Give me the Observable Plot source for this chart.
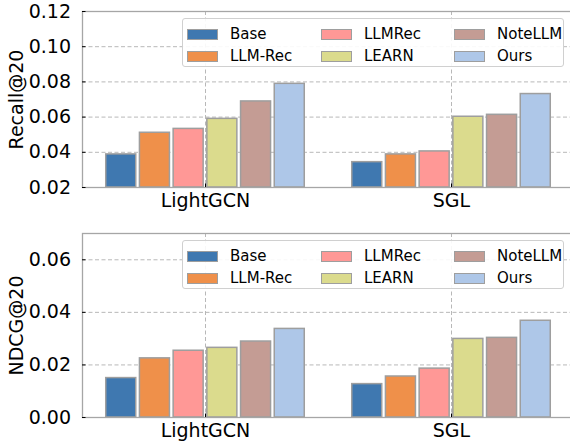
<!DOCTYPE html>
<html>
<head>
<meta charset="utf-8">
<script src="https://cdn.jsdelivr.net/npm/d3@7"></script>
<script src="https://cdn.jsdelivr.net/npm/@observablehq/plot@0.6"></script>
<style>
  html, body { margin: 0; padding: 0; background: white; }
  #wrap { position: relative; width: 570px; height: 442px; overflow: hidden; font-family: "DejaVu Sans", sans-serif; }
  .panel { position: absolute; left: 0; }
  .legend { position: absolute; left: 182px; width: 382px; height: 49px; border: 1px solid #d0d0d0; border-radius: 3px; background: rgba(255,255,255,0.9); box-sizing: border-box; }
  .item { position: absolute; display: flex; align-items: center; font-size: 15px; color: #000; white-space: nowrap; }
  .patch { width: 31px; height: 11px; box-sizing: border-box; border: 1.5px solid #9e9e9e; margin-right: 12px; }
</style>
</head>
<body>
<div id="wrap"></div>
<script>
const groups = ["LightGCN", "SGL"];
const methods = ["Base", "LLM-Rec", "LLMRec", "LEARN", "NoteLLM", "Ours"];
const colors = ["#3f78b0", "#ef904a", "#ff9896", "#dbdb8d", "#c49c94", "#aec7e8"];

const recallLightGCN = [0.0388, 0.0511, 0.0533, 0.0590, 0.0689, 0.0789];
const recallSGL      = [0.0344, 0.0388, 0.0405, 0.0602, 0.0613, 0.0731];
const ndcgLightGCN   = [0.0150, 0.0225, 0.0254, 0.0265, 0.0289, 0.0337];
const ndcgSGL        = [0.0127, 0.0156, 0.0186, 0.0299, 0.0303, 0.0368];

const recallTicks = [0.02, 0.04, 0.06, 0.08, 0.10, 0.12];
const ndcgTicks = [0.00, 0.02, 0.04, 0.06];

const pitch = 0.137, barW = 0.122;

function rows(a, b) {
  const out = [];
  [a, b].forEach((vals, gi) => vals.forEach((v, mi) => out.push({gi, group: groups[gi], mi, method: methods[mi], value: v})));
  return out;
}

function panel({data, yDomain, ticks, label, height, marginTop, marginBottom}) {
  return Plot.plot({
    width: 570, height, marginLeft: 82, marginRight: -4, marginTop, marginBottom,
    style: {fontFamily: "DejaVu Sans", fontSize: "19px", color: "#000", background: "white", overflow: "visible"},
    x: {type: "linear", domain: [-0.5, 1.5]},
    y: {domain: yDomain},
    color: {domain: methods, range: colors},
    marks: [
      Plot.gridY(ticks, {stroke: "#b0b0b0", strokeOpacity: 1, strokeWidth: 0.9, strokeDasharray: "4,2.5"}),
      Plot.gridX([0, 1], {stroke: "#b0b0b0", strokeOpacity: 1, strokeWidth: 0.9, strokeDasharray: "4,2.5"}),
      Plot.rectY(data, {
        x1: d => d.gi + (d.mi - 2.5) * pitch - barW / 2,
        x2: d => d.gi + (d.mi - 2.5) * pitch + barW / 2,
        y1: yDomain[0], y2: "value", fill: "method", stroke: "#9e9e9e", strokeWidth: 1.5
      }),
      Plot.frame({stroke: "#a6a6a6", strokeWidth: 1.3}),
      Plot.axisY(ticks, {tickSize: -3.5, tickPadding: 15, tickFormat: d3.format(".2f"),
        label, labelAnchor: "center", labelArrow: "none", labelOffset: 73, fontSize: 19}),
      Plot.axisX([0, 1], {tickSize: -3.5, tickPadding: 9, tickFormat: i => groups[i], label: null, fontSize: 19})
    ]
  });
}

const wrap = document.getElementById("wrap");
function addPanel(svg, top) {
  const d = document.createElement("div");
  d.className = "panel"; d.style.top = top + "px";
  d.appendChild(svg); wrap.appendChild(d);
}
function addLegend(top) {
  const lg = document.createElement("div");
  lg.className = "legend"; lg.style.top = top + "px";
  const colLeft = [4, 138, 271], rowTop = [6, 28];
  methods.forEach((m, i) => {
    const it = document.createElement("div");
    it.className = "item";
    it.style.left = colLeft[Math.floor(i / 2)] + "px";
    it.style.top = rowTop[i % 2] + "px";
    const p = document.createElement("span"); p.className = "patch"; p.style.background = colors[i];
    const t = document.createElement("span"); t.textContent = m;
    it.appendChild(p); it.appendChild(t); lg.appendChild(it);
  });
  wrap.appendChild(lg);
}

addPanel(panel({data: rows(recallLightGCN, recallSGL), yDomain: [0.02, 0.12], ticks: recallTicks,
  label: "Recall@20", height: 215, marginTop: 11, marginBottom: 28}), 0);
addPanel(panel({data: rows(ndcgLightGCN, ndcgSGL), yDomain: [0, 0.07], ticks: ndcgTicks,
  label: "NDCG@20", height: 227, marginTop: 18, marginBottom: 25}), 215);
addLegend(18);
addLegend(240);
</script>
</body>
</html>
